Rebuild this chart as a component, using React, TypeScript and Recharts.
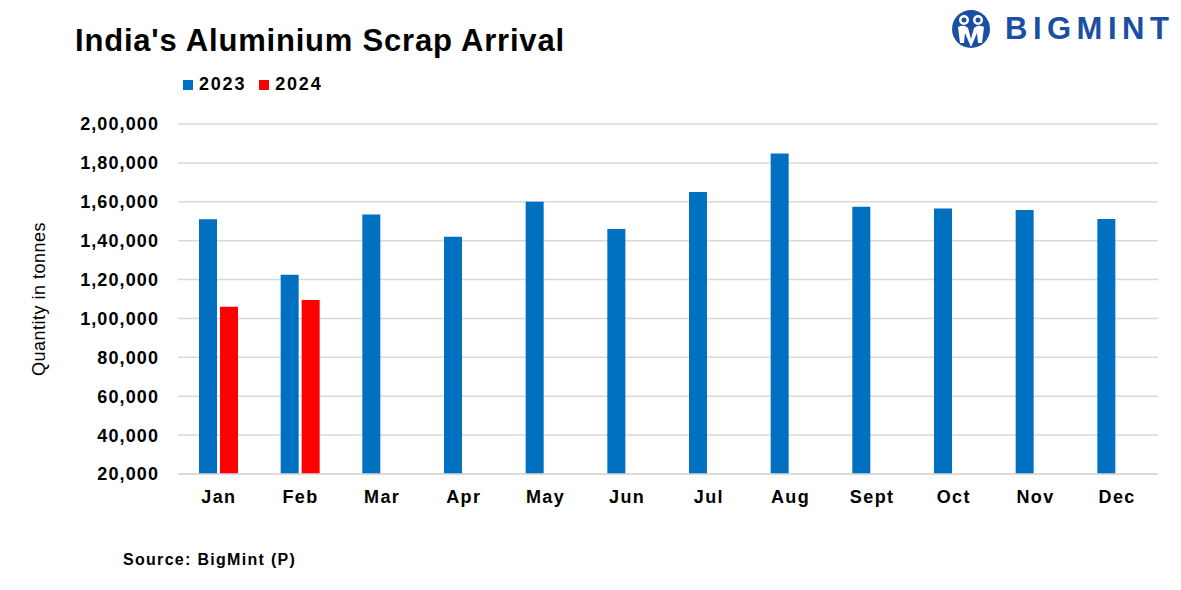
import { BarChart, Bar, XAxis, YAxis, CartesianGrid, Label } from 'recharts';

const months = ['Jan', 'Feb', 'Mar', 'Apr', 'May', 'Jun', 'Jul', 'Aug', 'Sept', 'Oct', 'Nov', 'Dec'];
const arrivals2023 = [151000, 122500, 153500, 142000, 160000, 146000, 165000, 184800, 157500, 156500, 155800, 151200];
const arrivals2024 = [106000, 109500, null, null, null, null, null, null, null, null, null, null];
const yTicks = [20000, 40000, 60000, 80000, 100000, 120000, 140000, 160000, 180000, 200000];

const data = months.map((m, i) => ({ month: m, y2023: arrivals2023[i], y2024: arrivals2024[i] }));

const BLUE = '#0070C0';
const RED = '#FF0000';
const FONT = "'Liberation Sans', Arial, sans-serif";

// Indian digit grouping: 2,00,000
const fmtIN = (v: number) => {
  const s = String(v);
  if (s.length <= 3) return s;
  const last3 = s.slice(-3);
  const rest = s.slice(0, -3).replace(/\B(?=(\d{2})+(?!\d))/g, ',');
  return rest + ',' + last3;
};

function Logo() {
  return (
    <div style={{ position: 'absolute', left: 951, top: 9, display: 'flex', alignItems: 'center' }}>
      <svg width="40" height="40" viewBox="0 0 40 40">
        <circle cx="20" cy="20" r="19" fill="#1A4FA3" />
        <circle cx="13" cy="11" r="5" fill="#fff" />
        <circle cx="27" cy="11" r="5" fill="#fff" />
        <path d="M7 18 Q13 15 17 19 L20 30 L23 19 Q27 15 33 18 L31 34 L27 34 L26 24 L20 38 L14 24 L13 34 L9 34 Z" fill="#fff" />
        <circle cx="13" cy="11" r="2.5" fill="#1A4FA3" />
        <circle cx="27" cy="11" r="2.5" fill="#1A4FA3" />
      </svg>
      <span style={{ marginLeft: 14, fontFamily: FONT, fontWeight: 700, fontSize: 31, letterSpacing: 5.5, color: '#1A4FA3' }}>
        BIGMINT
      </span>
    </div>
  );
}

export default function App() {
  return (
    <div style={{ position: 'absolute', left: 0, top: 0, width: 1181, height: 590, background: '#fff', fontFamily: FONT }}>
      <div style={{ position: 'absolute', left: 75, top: 23, fontSize: 31, fontWeight: 700, letterSpacing: 0.8, color: '#000' }}>
        India's Aluminium Scrap Arrival
      </div>
      <Logo />

      {/* legend */}
      <div style={{ position: 'absolute', left: 183, top: 74, display: 'flex', alignItems: 'center', fontSize: 18, fontWeight: 700, letterSpacing: 1.8 }}>
        <span style={{ width: 10, height: 10, background: BLUE, display: 'inline-block', marginRight: 6 }} />
        <span style={{ marginRight: 13 }}>2023</span>
        <span style={{ width: 10, height: 10, background: RED, display: 'inline-block', marginRight: 6 }} />
        <span>2024</span>
      </div>

      <div style={{ position: 'absolute', left: 0, top: 0 }}>
        <BarChart
          width={1181}
          height={590}
          data={data}
          margin={{ top: 124, right: 23, bottom: 86, left: 78 }}
          barSize={18}
          barGap={3}
        >
          <CartesianGrid vertical={false} stroke="#D9D9D9" strokeWidth={1.5} />
          <XAxis
            dataKey="month"
            height={30}
            axisLine={{ stroke: '#D9D9D9', strokeWidth: 1.5 }}
            tickLine={false}
            tickSize={0}
            tickMargin={16}
            tick={{ fontSize: 18, fontWeight: 700, fill: '#000', fontFamily: FONT, letterSpacing: 1.4 }}
          />
          <YAxis
            width={100}
            domain={[20000, 200000]}
            ticks={yTicks}
            allowDataOverflow
            axisLine={false}
            tickLine={false}
            tickSize={0}
            tickMargin={19}
            tickFormatter={fmtIN}
            tick={{ fontSize: 18, fontWeight: 700, fill: '#000', fontFamily: FONT, letterSpacing: 1.1 }}
          >
            <Label
              value="Quantity in tonnes"
              angle={-90}
              position="insideLeft"
              offset={-39}
              style={{ fontSize: 18, fill: '#000', fontFamily: FONT, textAnchor: 'middle', letterSpacing: 0.5 }}
            />
          </YAxis>
          <Bar dataKey="y2023" fill={BLUE} isAnimationActive={false} />
          <Bar dataKey="y2024" fill={RED} isAnimationActive={false} />
        </BarChart>
      </div>

      <div style={{ position: 'absolute', left: 123, top: 551, fontSize: 16, fontWeight: 700, letterSpacing: 1.3 }}>
        Source: BigMint (P)
      </div>
    </div>
  );
}
